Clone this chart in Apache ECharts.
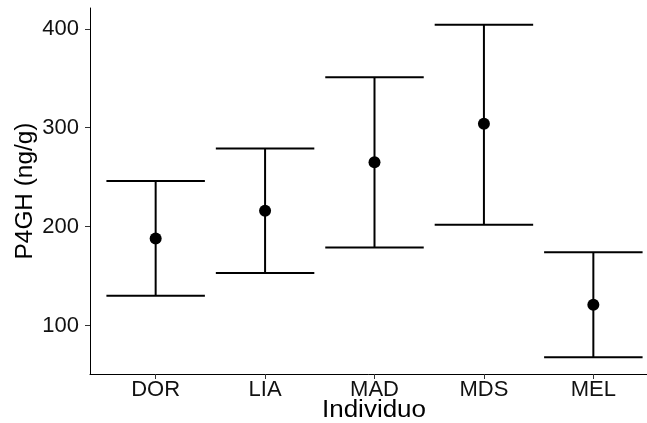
<!doctype html>
<html>
<head>
    <meta charset="UTF-8">
    <title>P4GH por individuo</title>
    <script src="https://cdn.jsdelivr.net/npm/echarts@6/dist/echarts.min.js"></script>
    <style>
        html, body { margin: 0; padding: 0; background: #fff; }
        #main { width: 647px; height: 423px; }
    </style>
</head>
<body>
    <div id="main"></div>
    <script>
        // data
        var individuos = ['DOR', 'LIA', 'MAD', 'MDS', 'MEL'];
        var media = [188, 216, 265, 304, 121];
        var inferior = [130, 153, 179, 202, 68];
        var superior = [246, 279, 351, 404, 174];
        var yTicks = [100, 200, 300, 400];

        var barras = individuos.map(function (d, i) {
            return [i + 1, inferior[i], superior[i]];
        });
        var puntos = individuos.map(function (d, i) {
            return [i + 1, media[i]];
        });

        var myChart = echarts.init(document.getElementById('main'));
        var fuente = 'Liberation Sans, Arial, sans-serif';

        var option = {
            animation: false,
            grid: { left: 90, top: 8, width: 569, height: 366, outerBoundsMode: 'none' },
            xAxis: {
                type: 'value',
                min: 0.4,
                max: 5.6,
                splitLine: { show: false },
                axisLine: { lineStyle: { color: '#000', width: 1 } },
                axisTick: {
                    show: true, length: 5,
                    lineStyle: { color: '#333' },
                    customValues: [1, 2, 3, 4, 5]
                },
                axisLabel: {
                    customValues: [1, 2, 3, 4, 5],
                    formatter: function (v) { return individuos[Math.round(v) - 1] || ''; },
                    color: '#111',
                    fontSize: 22,
                    fontFamily: fuente,
                    margin: 5
                }
            },
            yAxis: {
                type: 'value',
                min: 51,
                max: 421,
                splitLine: { show: false },
                axisLine: { show: true, lineStyle: { color: '#000', width: 1 } },
                axisTick: {
                    show: true, length: 5,
                    lineStyle: { color: '#333' },
                    customValues: yTicks
                },
                axisLabel: {
                    customValues: yTicks,
                    color: '#111',
                    fontSize: 22,
                    fontFamily: fuente,
                    margin: 11
                }
            },
            graphic: [
                {
                    type: 'text',
                    x: 374, y: 411,
                    scaleX: 1.13,
                    style: {
                        text: 'Individuo', fill: '#000',
                        font: '23px ' + fuente,
                        align: 'center', verticalAlign: 'middle'
                    }
                },
                {
                    type: 'text',
                    x: 26, y: 191,
                    rotation: Math.PI / 2,
                    scaleX: 1.06,
                    style: {
                        text: 'P4GH (ng/g)', fill: '#000',
                        font: '23px ' + fuente,
                        align: 'center', verticalAlign: 'middle'
                    }
                }
            ],
            series: [
                {
                    type: 'custom',
                    data: barras,
                    renderItem: function (params, api) {
                        var x = api.value(0);
                        var lo = api.coord([x, api.value(1)]);
                        var hi = api.coord([x, api.value(2)]);
                        var izq = api.coord([x - 0.45, api.value(1)])[0];
                        var der = api.coord([x + 0.45, api.value(1)])[0];
                        var estilo = { stroke: '#000', lineWidth: 2 };
                        return {
                            type: 'group',
                            children: [
                                { type: 'line', shape: { x1: lo[0], y1: lo[1], x2: hi[0], y2: hi[1] }, style: estilo },
                                { type: 'line', shape: { x1: izq, y1: lo[1], x2: der, y2: lo[1] }, style: estilo },
                                { type: 'line', shape: { x1: izq, y1: hi[1], x2: der, y2: hi[1] }, style: estilo }
                            ]
                        };
                    },
                    silent: true
                },
                {
                    type: 'scatter',
                    data: puntos,
                    symbolSize: 12,
                    itemStyle: { color: '#000', opacity: 1 },
                    silent: true
                }
            ]
        };

        myChart.setOption(option);
    </script>
</body>
</html>
